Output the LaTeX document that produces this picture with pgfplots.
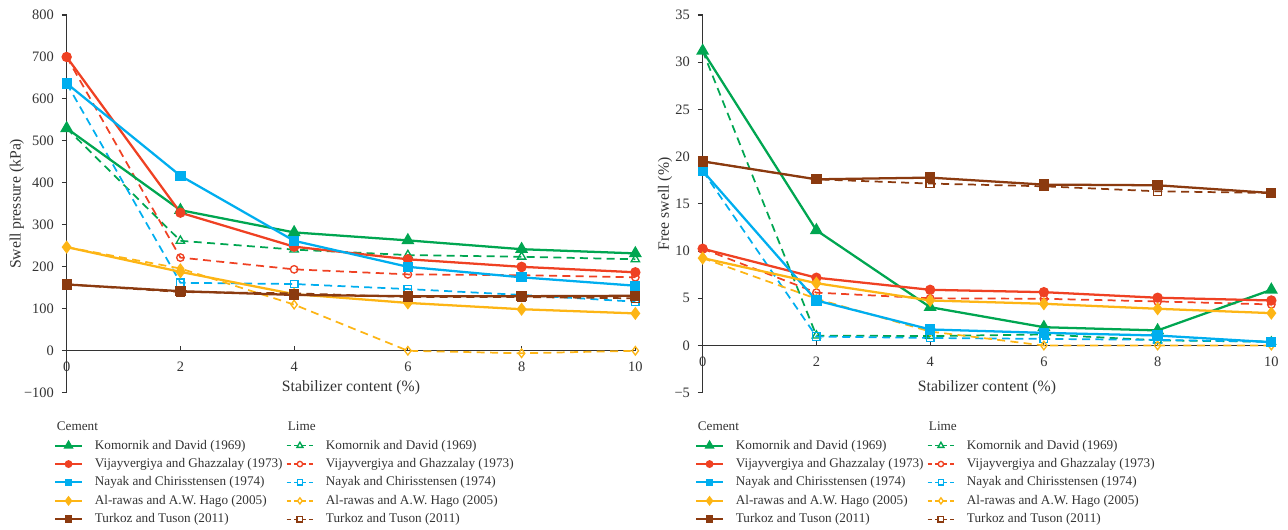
\documentclass[border=0pt]{standalone}
\usepackage{fontspec}
\setmainfont{Liberation Serif}
\usepackage{pgfplots}
\pgfplotsset{compat=1.18}
\definecolor{cg}{HTML}{00A651}
\definecolor{cr}{HTML}{EF4123}
\definecolor{cb}{HTML}{00AEEF}
\definecolor{cy}{HTML}{FDB515}
\definecolor{cn}{HTML}{8B3A0F}
\definecolor{axc}{HTML}{333333}

\pgfplotsset{
  myaxis/.style={
    scale only axis, width=426.5pt, height=283.3pt,
    axis x line=middle, axis y line=left,
    axis line style={-, axc, line width=0.8pt},
    hide obscured x ticks=false, hide obscured y ticks=false,
    xmin=0, xmax=10, xtick={0,2,...,10},
    xtick align=inside, ytick align=outside,
    major tick length=3.6pt,
    tick style={axc, line width=0.8pt},
    xticklabel style={yshift=-5pt},
    yticklabel style={xshift=-2.5pt},
    tick label style={text=axc, font=\fontsize{10.8}{13}\selectfont},
    label style={font=\fontsize{11.8}{14}\selectfont},
    /pgf/number format/assume math mode=true,
    x label style={at={(axis description cs:0.5,0.0125)}, anchor=center, text=axc},
    xlabel={Stabilizer content (\%)},
    clip=false,
    legend columns=2, legend cell align=left,
    legend style={draw=none, fill=none, anchor=north west,
      font=\fontsize{9.9}{11.8}\selectfont, text=axc,
      nodes={inner sep=0pt, text height=7.5pt, text depth=2.5pt},
      row sep=3.8pt, column sep=9pt,
      /tikz/every even column/.append style={column sep=2.5pt}},
    legend image code/.code={\draw[mark repeat=2,mark phase=2, every mark/.append style={scale=0.72}] plot coordinates {(0pt,0pt) (10pt,0pt) (20pt,0pt)};},
  },
  cem/.style={solid, line width=1.7pt},
  lim/.style={dash pattern=on 6pt off 4pt, line width=1.3pt},
  lleg/.style={dash pattern=on 3.2pt off 2.4pt, line width=1pt},
  gC/.style={cem, color=cg, mark=triangle*, mark size=4pt, mark options={solid}},
  rC/.style={cem, color=cr, mark=*, mark size=3pt, mark options={solid}},
  bC/.style={cem, color=cb, mark=square*, mark size=3pt, mark options={solid}},
  yC/.style={cem, color=cy, mark=diamond*, mark size=3.6pt, mark options={solid}},
  nC/.style={cem, color=cn, mark=square*, mark size=3pt, mark options={solid}},
  gL/.style={color=cg, mark=triangle, mark size=3.6pt, mark options={solid, fill=white, line width=1pt}},
  rL/.style={color=cr, mark=o, mark size=2.8pt, mark options={solid, fill=white, line width=1pt}},
  bL/.style={color=cb, mark=square, mark size=2.8pt, mark options={solid, fill=white, line width=1pt}},
  yL/.style={color=cy, mark=diamond, mark size=3.2pt, mark options={solid, fill=white, line width=1pt}},
  nL/.style={color=cn, mark=square, mark size=3pt, mark options={solid, fill=white, line width=1pt}},
}

\newcommand{\mylegend}{%
  \addlegendimage{empty legend}\addlegendentry{\makebox[0pt][l]{\hspace*{-29pt}Cement}}
  \addlegendimage{empty legend}\addlegendentry{\makebox[0pt][l]{\hspace*{-29pt}Lime}}
  \addlegendimage{gC, line width=1.5pt}\addlegendentry{Komornik and David (1969)}
  \addlegendimage{gL, lleg}\addlegendentry{Komornik and David (1969)}
  \addlegendimage{rC, line width=1.5pt}\addlegendentry{Vijayvergiya and Ghazzalay (1973)}
  \addlegendimage{rL, lleg}\addlegendentry{Vijayvergiya and Ghazzalay (1973)}
  \addlegendimage{bC, line width=1.5pt}\addlegendentry{Nayak and Chirisstensen (1974)}
  \addlegendimage{bL, lleg}\addlegendentry{Nayak and Chirisstensen (1974)}
  \addlegendimage{yC, line width=1.5pt}\addlegendentry{Al-rawas and A.W. Hago (2005)}
  \addlegendimage{yL, lleg}\addlegendentry{Al-rawas and A.W. Hago (2005)}
  \addlegendimage{nC, line width=1.5pt}\addlegendentry{Turkoz and Tuson (2011)}
  \addlegendimage{nL, lleg}\addlegendentry{Turkoz and Tuson (2011)}
}

\begin{document}
\begin{tikzpicture}
\path[use as bounding box] (0,0) rectangle (966pt,396.75pt);

% ---------------- Left: swell pressure ----------------
\begin{axis}[myaxis, at={(50pt,102.2pt)}, anchor=south west,
  ymin=-100, ymax=800, ytick={-100,0,...,800},
  yticklabels={−100,0,100,200,300,400,500,600,700,800},
  ylabel={Swell pressure (kPa)},
  y label style={at={(axis description cs:-0.0875,0.5)}, anchor=center, text=axc},
  legend style={at={(axis description cs:-0.0294,-0.066)}},
]
\addplot[gL, lim, forget plot] coordinates {(0,530) (2,262) (4,241) (6,228) (8,224) (10,218)};
\addplot[rL, lim, forget plot] coordinates {(0,700) (2,222) (4,194) (6,182) (8,180) (10,175)};
\addplot[bL, lim, forget plot] coordinates {(0,637) (2,162) (4,159) (6,147) (8,133) (10,117)};
\addplot[yL, lim, forget plot] coordinates {(0,247) (2,196) (4,110) (6,0) (8,-6) (10,0)};
\addplot[gC, forget plot] coordinates {(0,530) (2,335) (4,282) (6,263) (8,242) (10,232)};
\addplot[rC, forget plot] coordinates {(0,700) (2,329) (4,248) (6,218) (8,200) (10,187)};
\addplot[bC, forget plot] coordinates {(0,637) (2,417) (4,262) (6,200) (8,175) (10,155)};
\addplot[yC, forget plot] coordinates {(0,247) (2,188) (4,135) (6,114) (8,99) (10,89)};
\addplot[nC, forget plot] coordinates {(0,158) (2,142) (4,133) (6,130) (8,130) (10,131)};
\addplot[nL, lim, forget plot] coordinates {(0,158) (2,140) (4,137) (6,128) (8,128) (10,125)};
\mylegend
\end{axis}

% ---------------- Right: free swell ----------------
\begin{axis}[myaxis, at={(527pt,102.2pt)}, anchor=south west,
  ymin=-5, ymax=35, ytick={-5,0,...,35},
  yticklabels={−5,0,5,10,15,20,25,30,35},
  ylabel={Free swell (\%)},
  y label style={at={(axis description cs:-0.066,0.5)}, anchor=center, text=axc},
  legend style={at={(axis description cs:-0.0206,-0.066)}},
]
\addplot[gL, lim, forget plot] coordinates {(0,31.2) (2,1.05) (4,1.0) (6,1.17) (8,0.55) (10,0.4)};
\addplot[rL, lim, forget plot] coordinates {(0,10.25) (2,5.6) (4,5.0) (6,4.95) (8,4.67) (10,4.35)};
\addplot[bL, lim, forget plot] coordinates {(0,18.5) (2,0.95) (4,0.8) (6,0.7) (8,0.6) (10,0.4)};
\addplot[yL, lim, forget plot] coordinates {(0,9.26) (2,4.95) (4,1.48) (6,0) (8,0) (10,0)};
\addplot[gC, forget plot] coordinates {(0,31.2) (2,12.2) (4,4.06) (6,1.94) (8,1.6) (10,5.9)};
\addplot[rC, forget plot] coordinates {(0,10.25) (2,7.18) (4,5.9) (6,5.65) (8,5.06) (10,4.77)};
\addplot[bC, forget plot] coordinates {(0,18.5) (2,4.77) (4,1.7) (6,1.34) (8,1.06) (10,0.35)};
\addplot[yC, forget plot] coordinates {(0,9.26) (2,6.6) (4,4.77) (6,4.42) (8,3.89) (10,3.43)};
\addplot[nC, forget plot] coordinates {(0,19.5) (2,17.6) (4,17.78) (6,17.04) (8,16.97) (10,16.15)};
\addplot[nL, lim, forget plot] coordinates {(0,19.5) (2,17.6) (4,17.15) (6,16.86) (8,16.33) (10,16.15)};
\mylegend
\end{axis}
\end{tikzpicture}
\end{document}
